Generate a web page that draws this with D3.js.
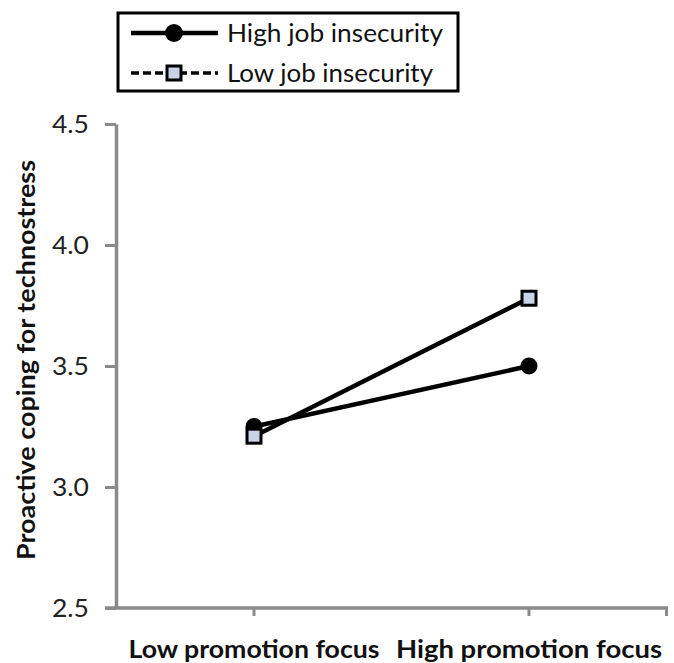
<!DOCTYPE html>
<html><head><meta charset="utf-8">
<script src="https://cdn.jsdelivr.net/npm/d3@7"></script>
<style>html,body{margin:0;padding:0;background:#fff;}</style>
</head><body>
<svg id="c" width="674" height="663"></svg>
<script>
const categories = ["Low promotion focus", "High promotion focus"];
const seriesNames = ["High job insecurity", "Low job insecurity"];
const highInsecurity = [3.25, 3.50];
const lowInsecurity = [3.21, 3.78];
const yTicks = [2.5, 3.0, 3.5, 4.0, 4.5];
const yTitle = "Proactive coping for technostress";

const svg = d3.select("#c");
const font = "Lato, 'Open Sans', sans-serif";
const L = 116, R = 668, T = 124, B = 608;
const y = d3.scaleLinear().domain([2.5, 4.5]).range([B, T]);
const xp = d3.scalePoint().domain(categories).range([254, 529]);

const axisColor = "#8a8a8a";
// y axis
const ya = svg.append("g").attr("transform", `translate(${L},0)`)
  .call(d3.axisLeft(y).tickValues(yTicks).tickFormat(d3.format(".1f")).tickSize(11).tickSizeOuter(0));
ya.select(".domain").attr("stroke", axisColor).attr("stroke-width", 3.5);
ya.selectAll(".tick line").attr("stroke", axisColor).attr("stroke-width", 3);
ya.selectAll(".tick text").attr("font-family", font).attr("font-size", 25).attr("fill", "#222")
  .attr("x", -27).attr("dy", "0.34em").attr("textLength", 37).attr("lengthAdjust", "spacingAndGlyphs");

// x axis
const xa = svg.append("g").attr("transform", `translate(0,${B})`);
xa.append("line").attr("x1", L - 11).attr("x2", R).attr("y1", 0).attr("y2", 0)
  .attr("stroke", axisColor).attr("stroke-width", 3.5);
const tickXs = categories.map(c => xp(c)).concat([R - 1.5]);
xa.selectAll("line.t").data(tickXs).enter().append("line").attr("class", "t")
  .attr("x1", d => d).attr("x2", d => d).attr("y1", 0).attr("y2", 8)
  .attr("stroke", axisColor).attr("stroke-width", 3);
xa.selectAll("text").data(categories).enter().append("text")
  .attr("x", d => xp(d)).attr("y", 50).attr("text-anchor", "middle")
  .attr("font-family", font).attr("font-weight", "bold").attr("font-size", 25).attr("fill", "#111")
  .attr("textLength", (d, i) => i === 0 ? 251 : 266).attr("lengthAdjust", "spacingAndGlyphs")
  .text(d => d);

// y title
svg.append("text").attr("transform", `translate(35,${360}) rotate(-90)`)
  .attr("text-anchor", "middle").attr("font-family", font).attr("font-weight", "bold")
  .attr("font-size", 24).attr("fill", "#111")
  .attr("textLength", 400).attr("lengthAdjust", "spacingAndGlyphs").text(yTitle);

const line = d3.line().x((d, i) => xp(categories[i])).y(d => y(d));
const series = [
  {name: seriesNames[0], values: highInsecurity, marker: "circle"},
  {name: seriesNames[1], values: lowInsecurity, marker: "square"}
];
series.forEach(s => {
  svg.append("path").attr("d", line(s.values)).attr("fill", "none")
    .attr("stroke", "#000").attr("stroke-width", 4.5);
});
series.forEach(s => {
  s.values.forEach((v, i) => {
    const cx = xp(categories[i]), cy = y(v);
    if (s.marker === "circle") {
      svg.append("circle").attr("cx", cx).attr("cy", cy).attr("r", 8.5).attr("fill", "#000");
    } else {
      svg.append("rect").attr("x", cx - 7).attr("y", cy - 7).attr("width", 14).attr("height", 14)
        .attr("fill", "#c9d2e6").attr("stroke", "#000").attr("stroke-width", 3);
    }
  });
});

// legend
const lg = svg.append("g");
lg.append("rect").attr("x", 118).attr("y", 13).attr("width", 340).attr("height", 78)
  .attr("fill", "#fff").attr("stroke", "#000").attr("stroke-width", 3);
const rows = [33, 73];
series.forEach((s, i) => {
  const ry = rows[i];
  lg.append("line").attr("x1", 131).attr("x2", 218).attr("y1", ry).attr("y2", ry)
    .attr("stroke", "#000").attr("stroke-width", i === 1 ? 3.5 : 4.5)
    .attr("stroke-dasharray", i === 1 ? "8,4" : null);
  if (s.marker === "circle") {
    lg.append("circle").attr("cx", 174).attr("cy", ry).attr("r", 9).attr("fill", "#000");
  } else {
    lg.append("rect").attr("x", 167).attr("y", ry - 7).attr("width", 14).attr("height", 14)
      .attr("fill", "#c9d2e6").attr("stroke", "#000").attr("stroke-width", 3);
  }
  lg.append("text").attr("x", 227).attr("y", ry + 9).attr("font-family", font)
    .attr("font-size", 25).attr("fill", "#111")
    .attr("textLength", i === 0 ? 216 : 206).attr("lengthAdjust", "spacingAndGlyphs").text(s.name);
});
</script>
</body></html>
